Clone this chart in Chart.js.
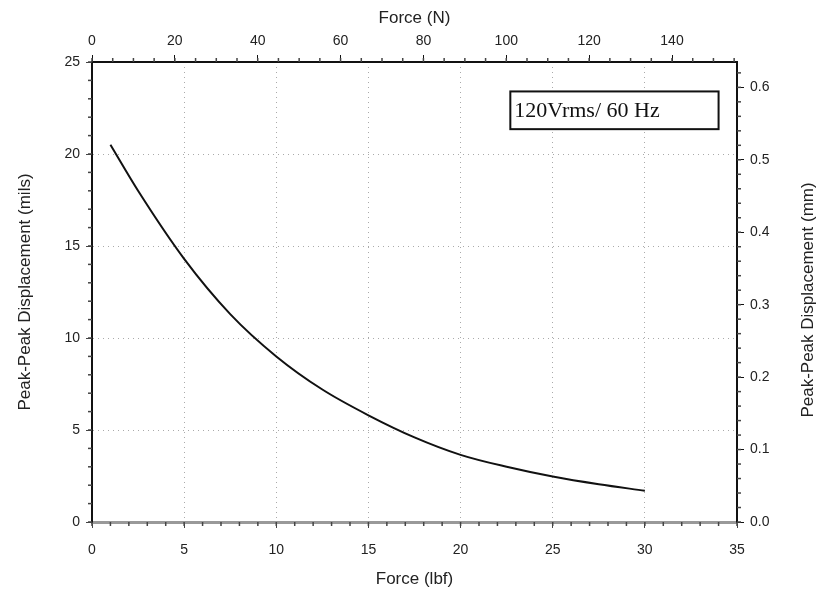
<!DOCTYPE html>
<html>
<head>
<meta charset="utf-8">
<script src="https://cdn.jsdelivr.net/npm/chart.js@4.4.0/dist/chart.umd.min.js"></script>
<style>
  body { margin: 0; background: #fff; }
</style>
</head>
<body>
<canvas id="chart" width="820" height="597"></canvas>
<script>
// valores
const forceLbf = [1, 2.5, 5, 7.5, 10, 12.5, 15, 17.5, 20, 22.5, 25, 27.5, 30];
const dispMils = [20.5, 18.0, 14.3, 11.3, 9.0, 7.2, 5.8, 4.6, 3.65, 3.0, 2.47, 2.05, 1.7];
const legendText = '120Vrms/ 60 Hz';
const rightTitle = 'Peak-Peak Displacement (mm)';

const LBF_TO_N = 4.448222;
const MILS_TO_MM = 0.0254;
const xMax = 35;
const yMax = 25;

const points = forceLbf.map((f, i) => ({ x: f, y: dispMils[i] }));

const tickFont = { family: 'Liberation Sans', size: 14 };
const titleFont = { family: 'Liberation Sans', size: 17 };

// ticks menores (Chart.js não tem nativamente)
const minorTicks = {
    id: 'minorTicks',
    afterDraw(chart) {
        const ctx = chart.ctx;
        const defs = [
            { id: 'x', step: 1, dir: 'down' },
            { id: 'y', step: 1, dir: 'left' },
            { id: 'x2', step: 5, dir: 'up' },
            { id: 'y2', step: 0.02, dir: 'right' }
        ];
        ctx.save();
        ctx.strokeStyle = '#444';
        ctx.lineWidth = 1.5;
        defs.forEach(d => {
            const s = chart.scales[d.id];
            for (let v = s.min; v <= s.max + 1e-9; v += d.step) {
                const p = s.getPixelForValue(v);
                ctx.beginPath();
                if (d.dir === 'down') { ctx.moveTo(p, s.top); ctx.lineTo(p, s.top + 4); }
                if (d.dir === 'up') { ctx.moveTo(p, s.bottom); ctx.lineTo(p, s.bottom - 4); }
                if (d.dir === 'left') { ctx.moveTo(s.right, p); ctx.lineTo(s.right - 4, p); }
                if (d.dir === 'right') { ctx.moveTo(s.left, p); ctx.lineTo(s.left + 4, p); }
                ctx.stroke();
            }
        });
        ctx.restore();
    }
};

// título do eixo direito, lido de baixo para cima
const rightAxisTitle = {
    id: 'rightAxisTitle',
    afterDraw(chart) {
        const { ctx, chartArea } = chart;
        ctx.save();
        ctx.translate(808, (chartArea.top + chartArea.bottom) / 2 + 8);
        ctx.rotate(-Math.PI / 2);
        ctx.fillStyle = '#222';
        ctx.font = '17px "Liberation Sans"';
        ctx.textAlign = 'center';
        ctx.textBaseline = 'middle';
        ctx.fillText(rightTitle, 0, 0);
        ctx.restore();
    }
};

// caixa de texto "120Vrms/ 60 Hz"
const legendBox = {
    id: 'legendBox',
    afterDraw(chart) {
        const { ctx, scales: { x, y } } = chart;
        const left = x.getPixelForValue(22.7);
        const right = x.getPixelForValue(34.0);
        const top = y.getPixelForValue(23.4);
        const bottom = y.getPixelForValue(21.35);
        ctx.save();
        ctx.fillStyle = '#fff';
        ctx.fillRect(left, top, right - left, bottom - top);
        ctx.strokeStyle = '#111';
        ctx.lineWidth = 2;
        ctx.strokeRect(left, top, right - left, bottom - top);
        ctx.fillStyle = '#111';
        ctx.font = '22px "Liberation Serif"';
        ctx.textBaseline = 'middle';
        ctx.fillText(legendText, left + 4, (top + bottom) / 2 + 1);
        ctx.restore();
    }
};

new Chart(document.getElementById('chart'), {
    type: 'line',
    data: {
        datasets: [{
            data: points,
            borderColor: '#111',
            borderWidth: 2,
            pointRadius: 0,
            cubicInterpolationMode: 'monotone',
            xAxisID: 'x',
            yAxisID: 'y'
        }]
    },
    options: {
        responsive: false,
        animation: false,
        devicePixelRatio: 1,
        layout: { padding: 0 },
        plugins: {
            legend: { display: false },
            tooltip: { enabled: false }
        },
        scales: {
            x: {
                type: 'linear',
                position: 'bottom',
                min: 0,
                max: xMax,
                afterFit: s => { s.height = 75; },
                ticks: { stepSize: 5, font: tickFont, color: '#222', padding: 14 },
                grid: { color: '#aaa', tickColor: '#444', tickLength: 6, lineWidth: 1 },
                border: { color: '#999', width: 3, dash: [1, 4] },
                title: { display: true, text: 'Force (lbf)', font: titleFont, color: '#222', padding: { top: 0, bottom: 7 } }
            },
            y: {
                type: 'linear',
                position: 'left',
                min: 0,
                max: yMax,
                afterFit: s => { s.width = 92; },
                ticks: { stepSize: 5, font: tickFont, color: '#222', padding: 6 },
                grid: { color: '#aaa', tickColor: '#444', tickLength: 6, lineWidth: 1 },
                border: { color: '#111', width: 2, dash: [1, 4] },
                title: { display: true, text: 'Peak-Peak Displacement (mils)', font: titleFont, color: '#222', padding: { top: 15, bottom: 0 } }
            },
            x2: {
                type: 'linear',
                position: 'top',
                min: 0,
                max: xMax * LBF_TO_N,
                afterFit: s => { s.height = 62; },
                ticks: { stepSize: 20, includeBounds: false, font: tickFont, color: '#222', padding: 5 },
                grid: { drawOnChartArea: false, tickColor: '#111', tickLength: 7 },
                border: { color: '#111', width: 2 },
                title: { display: true, text: 'Force (N)', font: titleFont, color: '#222', padding: { top: 8, bottom: 0 } }
            },
            y2: {
                type: 'linear',
                position: 'right',
                min: 0,
                max: yMax * MILS_TO_MM,
                afterFit: s => { s.width = 83; },
                ticks: { stepSize: 0.1, includeBounds: false, font: tickFont, color: '#222', padding: 6,
                         callback: v => v.toFixed(1) },
                grid: { drawOnChartArea: false, tickColor: '#111', tickLength: 7 },
                border: { color: '#111', width: 2 },
                title: { display: false }
            }
        }
    },
    plugins: [minorTicks, legendBox, rightAxisTitle]
});
</script>
</body>
</html>
